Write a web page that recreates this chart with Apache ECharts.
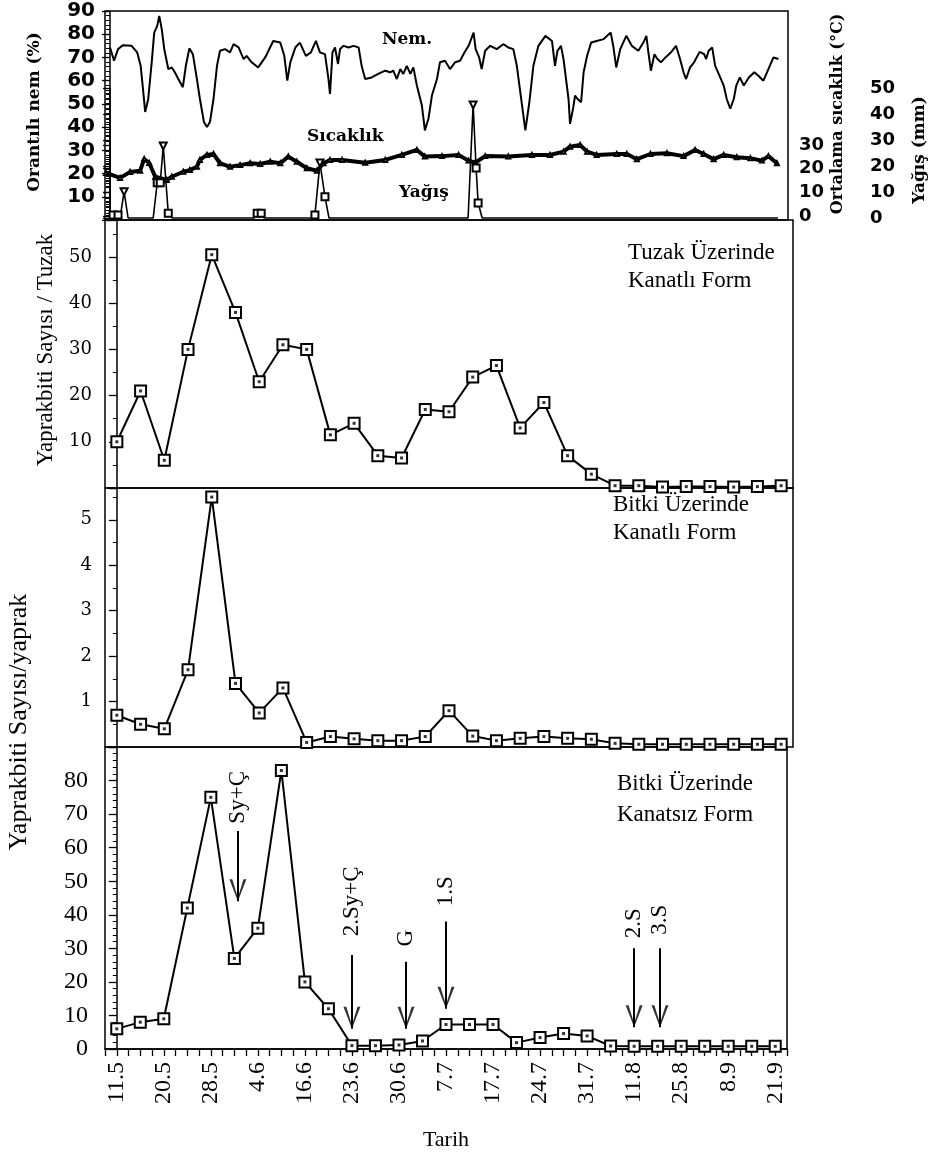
<!DOCTYPE html>
<html>
<head>
<meta charset="utf-8">
<title>Yaprakbiti</title>
<script src="https://cdn.jsdelivr.net/npm/echarts@6/dist/echarts.min.js"></script>
<style>
    html, body { margin: 0; padding: 0; background: #fff; }
    #chart { width: 937px; height: 1156px; }
</style>
</head>
<body>
<div id="chart"></div>
<script>
// sampling dates, every second one is unlabeled on the axis
const tarihler = ['11.5', '', '20.5', '', '28.5', '', '4.6', '', '16.6', '', '23.6', '', '30.6', '', '7.7',
    '', '17.7', '', '24.7', '', '31.7', '', '11.8', '', '25.8', '', '8.9', '', '21.9'];

// aphids / trap (winged)
const tuzakKanatli = [10, 21, 6, 30, 50.5, 38, 23, 31, 30, 11.5, 14, 7, 6.5, 17, 16.5, 24, 26.5, 13, 18.5, 7,
    3, 0.5, 0.5, 0.2, 0.3, 0.3, 0.2, 0.3, 0.5];
// aphids / leaf (winged)
const bitkiKanatli = [0.7, 0.5, 0.4, 1.7, 5.5, 1.4, 0.75, 1.3, 0.1, 0.23, 0.18, 0.14, 0.14, 0.23, 0.8, 0.24,
    0.14, 0.19, 0.23, 0.19, 0.17, 0.08, 0.06, 0.06, 0.06, 0.06, 0.06, 0.06, 0.06];
// aphids / leaf (wingless)
const bitkiKanatsiz = [6, 8, 9, 42, 75, 27, 36, 83, 20, 12, 1, 1, 1.2, 2.4, 7.3, 7.3, 7.3, 1.9, 3.4, 4.6,
    3.9, 0.9, 0.8, 0.8, 0.8, 0.8, 0.8, 0.8, 0.8];

// weather, x = day counted from 11.5
const nem = [[0,74.3],[0.8,68.6],[1.6,73.6],[2.6,75.3],[4.3,75],[5.4,72.2],[6.1,66.4],[6.5,57.9],[7,46.5],
    [7.6,52],[8.3,67.9],[8.8,80.7],[9.4,83.6],[9.8,87.9],[10.3,82.2],[10.8,73.6],[11.6,65],[12.3,65.7],
    [12.9,63.6],[13.6,60.7],[14.5,57.2],[15.1,66.4],[15.8,73.9],[16.5,71.4],[17.3,60.7],[17.9,52.1],
    [18.7,42.2],[19.3,40],[19.9,42.2],[20.6,52],[21.3,66.4],[21.9,72.9],[22.9,73.6],[23.9,72.2],[24.6,75.7],
    [25.6,74.3],[26.6,69.3],[27.2,70.7],[28.2,67.9],[29.5,65.7],[30.9,70],[32.5,77.1],[33.9,76.4],[34.7,70.7],
    [35.3,60],[35.9,67.9],[36.9,74.3],[37.8,76.4],[39,70.7],[40,72.2],[41,77.1],[41.8,72.2],[42.8,71.4],
    [43.5,60.7],[43.8,54.3],[44.3,72.2],[44.8,74.3],[45.4,67.2],[45.8,73.6],[46.5,75],[47.5,74.3],[48.5,75],
    [49.5,74.3],[50.1,66.4],[50.8,60.7],[52.1,61.4],[53.4,62.9],[54.8,64.3],[55.8,63.6],[56.4,64.3],
    [57.1,60.7],[57.8,65],[58.4,62.9],[59.1,66.4],[59.8,62.9],[60.4,65.7],[61.1,57.9],[62.1,49.3],[62.7,38.6],
    [63.4,43.6],[64.1,53.6],[65.1,60.7],[65.7,67.9],[66.7,68.6],[67.7,65],[68.7,67.9],[69.7,68.6],[70.6,72.2],
    [71.4,75],[72.4,80.7],[72.8,73.6],[73.5,70],[74,65],[74.7,72.9],[75.7,75],[77,73.6],[78.3,75.7],[79.3,74.3],
    [80.3,73.6],[81,66.4],[81.7,55],[82.7,38.6],[83.5,50.7],[84.3,66.4],[85.3,75],[86.7,79.3],[88,77.1],
    [88.6,66.4],[89.1,72.9],[89.8,75],[90.3,69.3],[90.8,60.7],[91.3,52.1],[91.6,41.4],[92.2,47.9],[92.6,53.6],
    [93.1,52.1],[93.8,50.7],[94.3,63.6],[95,70.7],[95.8,76.4],[96.9,77.1],[98.3,77.9],[99.7,80.7],[100.2,75],
    [100.8,65.7],[101.6,73.6],[102.8,79.3],[103.9,75],[105.2,72.9],[106.2,76.4],[106.8,79.3],[107.2,72.2],
    [107.7,64.3],[108.4,71.4],[109,69.3],[109.7,67.9],[110.6,70],[111.7,72.2],[112.7,75],[113.5,69.3],
    [114.2,63.6],[114.7,60.7],[115.5,65.7],[116.3,67.9],[117.4,72.4],[118.3,71.4],[118.7,69.3],[119.2,72.9],
    [119.9,74.3],[120.5,66.4],[121.2,62.9],[122.2,57.9],[122.8,52.1],[123.5,47.9],[124.2,52.1],[124.7,57.9],
    [125.4,61.4],[126.2,57.9],[127.2,61.4],[128.3,63.6],[129.1,62.1],[130.1,60],[131.1,65],[132.1,70],
    [133.1,69.3]];
const sicaklik = [[-0.8,18.2],[2,16.1],[4,18.6],[6,19.1],[6.8,24.1],[7.8,22.4],[9,16.6],[11.3,15.2],
    [12.3,16.6],[14.6,18.7],[15.9,19.4],[17.3,20.8],[17.9,23.7],[19.3,25.8],[20.6,26.2],[21.9,22.3],
    [23.9,20.8],[25.9,21.5],[27.9,22.3],[29.9,22],[31.9,22.9],[33.9,22.3],[35.5,25.1],[37.2,22.9],[39.2,20.2],
    [41.2,19.1],[42.5,22.3],[43.8,23.7],[46.2,23.7],[50.8,22.5],[54.8,23.7],[58.1,25.8],[61.1,27.9],
    [62.7,25.1],[66.1,25.3],[69.4,25.8],[71.4,23.4],[72.7,22.5],[74.7,25.3],[79.3,25.1],[84,25.8],[87.6,25.8],
    [90.3,27.2],[91.6,29.3],[93.6,30],[95,27.2],[96.9,25.8],[100.9,26.2],[102.9,26.2],[104.9,24],[107.6,26.2],
    [110.9,26.5],[114.2,25.3],[116.5,27.9],[118.2,26.2],[120.2,24],[122.2,25.8],[124.8,24.8],[127.5,24.4],
    [129.8,23.4],[131.1,25.3],[132.8,22.3]];
const yagis = [[0,0],[0.6,1.2],[1.6,1.2],[2,0],[2.8,10.1],[3.6,0],[8.6,0],[9.4,13.6],[10,13.6],[10.6,27.7],
    [11.6,1.8],[12.4,0],[28.7,0],[29.3,1.8],[30.1,1.8],[30.7,0],[40.2,0],[40.8,1.2],[41.8,21.2],[42.8,8.2],
    [43.6,0],[71.3,0],[72.3,43.5],[72.9,19.2],[73.3,5.8],[74.1,0],[133,0]];

// spraying notes on the bottom panel
const notlar = ['Sy+Ç', '2.Sy+Ç', 'G', '1.S', '2.S', '3.S'];
const notX = [5.15, 10, 12.3, 14, 22, 23.1];
const notYazi = [75, 44, 33, 47, 37.5, 38.5];
const okBas = [65, 28, 26, 38, 30, 30];
const okUc = [44, 6, 6, 12, 6.5, 6.5];

const serif = '"Liberation Serif", "DejaVu Serif", serif';
const bitmap = '"DejaVu Serif", serif';
const black = '#000';

function pts(arr) {
    return arr.map((v, i) => [i, v]);
}

function tepe(i) {
    const v = yagis[i][1];
    if (!(v > 0)) return false;
    const a = i > 0 ? yagis[i - 1][1] : -1;
    const b = i < yagis.length - 1 ? yagis[i + 1][1] : -1;
    return v > a && v > b;
}

function panelSeries(arr, idx) {
    return [{
        type: 'line',
        xAxisIndex: idx,
        yAxisIndex: idx,
        data: pts(arr),
        symbol: 'rect',
        symbolSize: 11,
        clip: false,
        itemStyle: { color: '#fff', borderColor: black, borderWidth: 2 },
        lineStyle: { color: black, width: 2 },
        z: 3
    }, {
        type: 'scatter',
        xAxisIndex: idx,
        yAxisIndex: idx,
        data: pts(arr),
        symbol: 'rect',
        symbolSize: 3,
        itemStyle: { color: black },
        silent: true,
        z: 4
    }];
}

function valueY(gridIndex, max, interval, minor, opts) {
    return Object.assign({
        type: 'value',
        gridIndex,
        min: 0,
        max,
        interval,
        splitLine: { show: false },
        axisLine: { show: true, lineStyle: { color: black, width: 1.5 } },
        axisTick: { show: true, length: 8, lineStyle: { color: black, width: 1.3 } },
        minorTick: { show: true, splitNumber: minor, length: 4, lineStyle: { color: black, width: 1 } },
        axisLabel: { color: black, fontFamily: serif, fontSize: 20, margin: 12 }
    }, opts || {});
}

function hiddenX(gridIndex, min, max) {
    return { type: 'value', gridIndex, min, max, show: false, splitLine: { show: false } };
}

function rotText(text, x, y, font, size, weight) {
    return {
        type: 'text', x, y, rotation: Math.PI / 2,
        style: { text, fill: black, fontFamily: font, fontSize: size, fontWeight: weight || 'normal',
            align: 'center', verticalAlign: 'middle' }
    };
}

function flatText(text, x, y, font, size, weight, lh) {
    return {
        type: 'text', x, y,
        style: { text, fill: black, fontFamily: font, fontSize: size, fontWeight: weight || 'normal',
            lineHeight: lh || size, align: 'left', verticalAlign: 'top' }
    };
}

const gridBase = { show: true, borderColor: black, borderWidth: 1.5, backgroundColor: 'transparent',
    containLabel: false, outerBoundsMode: 'none' };

const chart = echarts.init(document.getElementById('chart'));

const option = {
    animation: false,
    backgroundColor: '#fff',
    grid: [
        Object.assign({}, gridBase, { left: 105, top: 11, width: 683, height: 209 }),
        { show: false, left: 105, top: 145, width: 683, height: 71, outerBoundsMode: 'none' },
        { show: false, left: 105, top: 88, width: 683, height: 130, outerBoundsMode: 'none' },
        Object.assign({}, gridBase, { left: 105, top: 220, width: 688, height: 268 }),
        Object.assign({}, gridBase, { left: 105, top: 488, width: 688, height: 259 }),
        Object.assign({}, gridBase, { left: 105, top: 747, width: 682, height: 302 })
    ],
    xAxis: [
        hiddenX(0, -1, 135),
        hiddenX(1, -1, 135),
        hiddenX(2, -1, 135),
        hiddenX(3, -0.5, 28.5),
        hiddenX(4, -0.5, 28.5),
        {
            type: 'value',
            gridIndex: 5,
            min: -0.5,
            max: 28.5,
            interval: 0.5,
            splitLine: { show: false },
            axisLine: { show: true, lineStyle: { color: black, width: 1.5 } },
            axisTick: { show: true, length: 7, lineStyle: { color: black, width: 1.3 } },
            axisLabel: {
                color: black, fontFamily: serif, fontSize: 24, rotate: 90, margin: 13,
                formatter: v => (Number.isInteger(v) && tarihler[v]) ? tarihler[v] : ''
            },
            name: 'Tarih',
            nameLocation: 'middle',
            nameGap: 80,
            nameTextStyle: { color: black, fontFamily: serif, fontSize: 22 }
        }
    ],
    yAxis: [
        valueY(0, 90, 10, 5, {
            axisLabel: { color: black, fontFamily: '"DejaVu Sans", sans-serif', fontWeight: 'bold',
                fontSize: 20, margin: 10, showMinLabel: false }
        }),
        valueY(1, 30, 10, 4, {
            position: 'right', offset: 5,
            axisTick: { show: true, inside: true, length: 7, lineStyle: { color: black, width: 1.3 } },
            minorTick: { show: true, splitNumber: 4, length: 4, lineStyle: { color: black } },
            axisLabel: { color: black, fontFamily: '"DejaVu Sans", sans-serif', fontWeight: 'bold',
                fontSize: 18, margin: 6 }
        }),
        valueY(2, 50, 10, 5, {
            position: 'right', offset: 77,
            axisTick: { show: true, inside: true, length: 7, lineStyle: { color: black, width: 1.3 } },
            minorTick: { show: true, splitNumber: 5, length: 4, lineStyle: { color: black } },
            axisLabel: { color: black, fontFamily: '"DejaVu Sans", sans-serif', fontWeight: 'bold',
                fontSize: 18, margin: 5 }
        }),
        valueY(3, 58, 10, 2, {
            axisLabel: { color: black, fontFamily: bitmap, fontSize: 18, margin: 13,
                showMinLabel: false, showMaxLabel: false }
        }),
        valueY(4, 5.7, 1, 2, {
            axisLabel: { color: black, fontFamily: bitmap, fontSize: 18, margin: 13,
                showMinLabel: false, showMaxLabel: false }
        }),
        valueY(5, 90, 10, 5, {
            axisLabel: { color: black, fontFamily: serif, fontSize: 24, margin: 17, showMaxLabel: false }
        })
    ],
    series: [
        {
            name: 'Nem',
            type: 'line',
            xAxisIndex: 0,
            yAxisIndex: 0,
            data: nem,
            symbol: 'none',
            lineStyle: { color: black, width: 2 }
        },
        {
            name: 'Sıcaklık',
            type: 'line',
            xAxisIndex: 1,
            yAxisIndex: 1,
            data: sicaklik,
            clip: false,
            symbol: 'emptyTriangle',
            symbolSize: 4,
            itemStyle: { color: black, borderWidth: 1.2 },
            lineStyle: { color: black, width: 4 }
        },
        {
            name: 'Yağış',
            type: 'line',
            xAxisIndex: 2,
            yAxisIndex: 2,
            data: yagis,
            clip: false,
            symbol: (val, p) => tepe(p.dataIndex) ? 'emptyTriangle' : 'emptyRect',
            symbolRotate: (val, p) => tepe(p.dataIndex) ? 180 : 0,
            symbolSize: val => val[1] > 0 ? 7 : 0,
            itemStyle: { color: black, borderWidth: 1.3 },
            lineStyle: { color: black, width: 1.6 }
        },
        ...panelSeries(tuzakKanatli, 3),
        ...panelSeries(bitkiKanatli, 4),
        ...panelSeries(bitkiKanatsiz, 5),
        {
            // arrow shafts
            type: 'lines',
            coordinateSystem: 'cartesian2d',
            xAxisIndex: 5,
            yAxisIndex: 5,
            data: notX.map((x, i) => ({ coords: [[x, okBas[i]], [x, okUc[i]]] })),
            symbol: 'none',
            lineStyle: { color: black, width: 2, opacity: 1 },
            z: 5
        },
        {
            // open arrow heads
            type: 'scatter',
            xAxisIndex: 5,
            yAxisIndex: 5,
            data: notX.map((x, i) => [x, okUc[i]]),
            symbol: 'path://M0,0 L1.7,0 L5,8.2 L8.3,0 L10,0 L5,10 Z',
            symbolSize: [17, 22],
            symbolOffset: [0, '-50%'],
            itemStyle: { color: black },
            silent: true,
            z: 5
        },
        {
            type: 'scatter',
            xAxisIndex: 5,
            yAxisIndex: 5,
            data: notX.map((x, i) => ({ name: notlar[i], value: [x, notYazi[i]] })),
            symbolSize: 0,
            itemStyle: { color: black, opacity: 1 },
            label: {
                show: true, position: 'inside', rotate: 90, formatter: '{b}',
                color: black, fontFamily: serif, fontSize: 23,
                textBorderWidth: 0, textBorderColor: 'transparent', opacity: 1
            },
            silent: true,
            z: 5
        }
    ],
    graphic: [
        flatText('Nem.', 382, 31, bitmap, 17, 'bold'),
        flatText('Sıcaklık', 307, 128, bitmap, 17, 'bold'),
        flatText('Yağış', 399, 184, bitmap, 17, 'bold'),
        flatText('Tuzak Üzerinde\nKanatlı Form', 628, 239, serif, 23, 'normal', 28),
        flatText('Bitki Üzerinde\nKanatlı Form', 613, 491, serif, 23, 'normal', 28),
        flatText('Bitki Üzerinde\nKanatsız Form', 617, 768, serif, 23, 'normal', 31),
        rotText('Orantılı nem (%)', 35, 112, bitmap, 17, 'bold'),
        rotText('Ortalama sıcaklık (°C)', 838, 114, bitmap, 16, 'bold'),
        rotText('Yağış (mm)', 920, 150, bitmap, 17, 'bold'),
        rotText('Yaprakbiti Sayısı / Tuzak', 46, 350, serif, 23),
        rotText('Yaprakbiti Sayısı/yaprak', 19, 722, serif, 26)
    ]
};

chart.setOption(option);
</script>
</body>
</html>
